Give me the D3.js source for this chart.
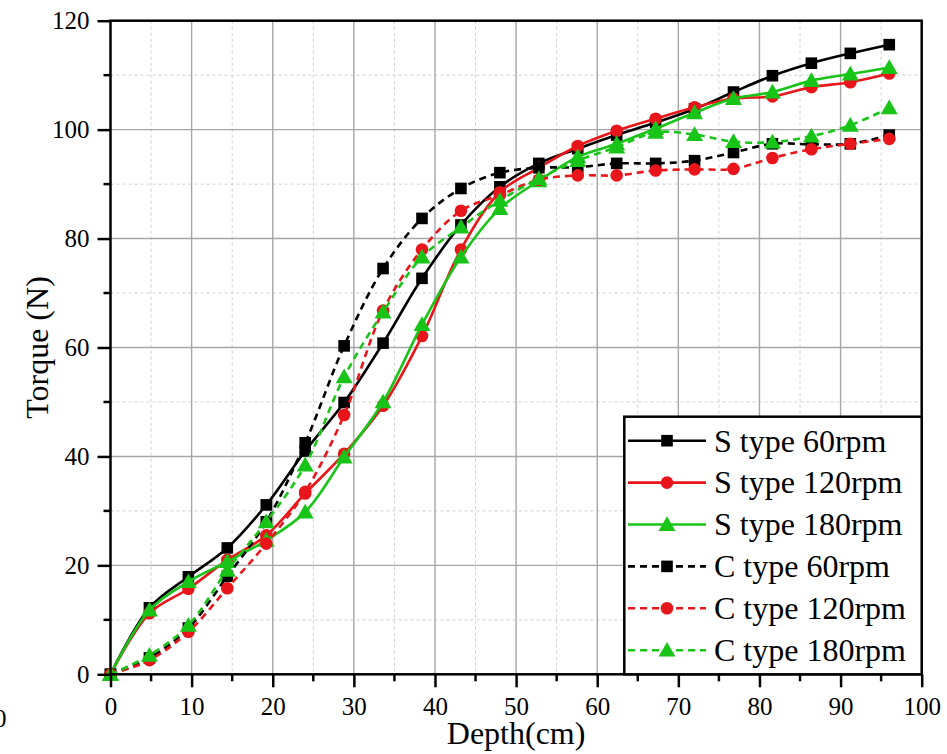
<!DOCTYPE html>
<html>
<head>
<meta charset="utf-8">
<script src="https://cdn.jsdelivr.net/npm/d3@7"></script>
<style>
  html, body { margin: 0; padding: 0; background: #fff; }
  svg { display: block; }
  svg text { font-family: "Liberation Serif", "Times New Roman", Times, serif !important; fill: #000; }
</style>
</head>
<body>
<svg id="chart" width="947" height="754" font-family="Liberation Serif, serif"></svg>
<script>
// ---- data ----
const depth = [0, 4.8, 9.6, 14.4, 19.2, 24, 28.8, 33.6, 38.4, 43.2, 48, 52.8, 57.6, 62.4, 67.2, 72, 76.8, 81.6, 86.4, 91.2, 96];
const sType60  = [0, 12.2, 17.9, 23.2, 31.1, 41.0, 49.9, 60.8, 72.7, 82.5, 89.5, 93.8, 96.5, 99.0, 101.3, 103.8, 106.9, 109.9, 112.2, 114.0, 115.6];
const sType120 = [0, 11.2, 15.7, 21.0, 25.5, 33.2, 40.5, 49.3, 62.1, 78.0, 88.5, 93.0, 97.0, 99.8, 102.0, 104.1, 105.7, 106.1, 107.8, 108.7, 110.3];
const sType180 = [0, 11.8, 17.0, 20.7, 24.6, 29.8, 39.9, 50.0, 64.2, 76.6, 85.5, 90.6, 95.0, 97.4, 100.2, 103.1, 105.7, 106.9, 109.0, 110.2, 111.4];
const cType60  = [0, 3.0, 8.5, 18.0, 28.0, 42.5, 60.3, 74.5, 83.7, 89.2, 92.1, 93.0, 93.1, 93.8, 93.8, 94.3, 95.8, 97.4, 97.3, 97.4, 99.0];
const cType120 = [0, 2.6, 7.8, 15.8, 24.0, 33.5, 47.6, 66.8, 78.0, 85.1, 88.0, 90.8, 91.6, 91.6, 92.5, 92.7, 92.8, 94.8, 96.4, 97.4, 98.3];
const cType180 = [0, 3.5, 9.0, 19.1, 28.0, 38.4, 54.6, 66.5, 76.6, 82.1, 87.0, 91.0, 94.3, 96.8, 99.5, 99.1, 97.8, 97.7, 98.8, 100.8, 104.0];

const seriesNames = ["S type 60rpm", "S type 120rpm", "S type 180rpm", "C type 60rpm", "C type 120rpm", "C type 180rpm"];
const seriesValues = [sType60, sType120, sType180, cType60, cType120, cType180];
const seriesColors = ["#000000", "#e8161b", "#19c419", "#000000", "#e8161b", "#19c419"];
const seriesSymbols = ["square", "circle", "triangle", "square", "circle", "triangle"];
const seriesDashed = [false, false, false, true, true, true];

const xTicks = [0, 10, 20, 30, 40, 50, 60, 70, 80, 90, 100];
const yTicks = [0, 20, 40, 60, 80, 100, 120];
const xMinor = [5, 15, 25, 35, 45, 55, 65, 75, 85, 95];
const yMinor = [10, 30, 50, 70, 90, 110];
const xTitle = "Depth(cm)";
const yTitle = "Torque (N)";

// ---- layout ----
const FONT = "'Liberation Serif', 'Times New Roman', serif";
const svg = d3.select("#chart");
const L = 110.5, R = 921.7, T = 20.7, B = 674.3;
const x = d3.scaleLinear().domain([0, 100]).range([L, R]);
const y = d3.scaleLinear().domain([0, 120]).range([B, T]);

// grid
const grid = svg.append("g");
grid.selectAll(".gxm").data(xMinor).join("line")
  .attr("x1", d => x(d)).attr("x2", d => x(d)).attr("y1", T).attr("y2", B)
  .attr("stroke", "#cfcfcf").attr("stroke-width", 1).attr("stroke-dasharray", "3,3");
grid.selectAll(".gym").data(yMinor).join("line")
  .attr("y1", d => y(d)).attr("y2", d => y(d)).attr("x1", L).attr("x2", R)
  .attr("stroke", "#cfcfcf").attr("stroke-width", 1).attr("stroke-dasharray", "3,3");
grid.selectAll(".gx").data(xTicks.slice(1, -1)).join("line")
  .attr("x1", d => x(d)).attr("x2", d => x(d)).attr("y1", T).attr("y2", B)
  .attr("stroke", "#a6a6a6").attr("stroke-width", 1.4);
grid.selectAll(".gy").data(yTicks.slice(1, -1)).join("line")
  .attr("y1", d => y(d)).attr("y2", d => y(d)).attr("x1", L).attr("x2", R)
  .attr("stroke", "#a6a6a6").attr("stroke-width", 1.4);

// series
const symbolSize = { square: 135, circle: 125, triangle: 125 };
const symbolType = { square: d3.symbolSquare, circle: d3.symbolCircle, triangle: d3.symbolTriangle };
const line = d3.line().x(d => x(d[0])).y(d => y(d[1])).curve(d3.curveCatmullRom.alpha(0.5));

const plot = svg.append("g");
seriesValues.forEach((vals, i) => {
  const pts = depth.map((d, j) => [d, vals[j]]);
  const g = plot.append("g");
  g.append("path").datum(pts)
    .attr("d", line).attr("fill", "none")
    .attr("stroke", seriesColors[i]).attr("stroke-width", 2.6)
    .attr("stroke-dasharray", seriesDashed[i] ? "7,5" : null);
  const sym = d3.symbol().type(symbolType[seriesSymbols[i]]).size(symbolSize[seriesSymbols[i]]);
  g.selectAll("path.m").data(pts).join("path")
    .attr("class", "m")
    .attr("d", sym)
    .attr("transform", d => `translate(${x(d[0])},${y(d[1]) + (seriesSymbols[i] === "triangle" ? 1.5 : 0)})`)
    .attr("fill", seriesColors[i]);
});

// axes
const xAxis = d3.axisBottom(x).tickValues(xTicks).tickSize(13).tickPadding(6).tickFormat(d3.format("d"));
const yAxis = d3.axisLeft(y).tickValues(yTicks).tickSize(13).tickPadding(8).tickFormat(d3.format("d"));
const gx = svg.append("g").attr("transform", `translate(0,${B})`).call(xAxis);
const gy = svg.append("g").attr("transform", `translate(${L},0)`).call(yAxis);
[gx, gy].forEach(g => {
  g.attr("font-family", FONT).attr("font-size", 25);
  g.select(".domain").remove();
  g.selectAll(".tick line").attr("stroke", "#000").attr("stroke-width", 2.5);
  g.selectAll(".tick text").attr("font-family", FONT).attr("font-size", 25).attr("fill", "#000");
});
gx.selectAll(".tick text").attr("dy", "0.88em");
gy.selectAll(".tick text").attr("dy", "0.33em");
// minor ticks
svg.append("g").selectAll("line").data(xMinor).join("line")
  .attr("x1", d => x(d)).attr("x2", d => x(d)).attr("y1", B).attr("y2", B + 7)
  .attr("stroke", "#000").attr("stroke-width", 2.5);
svg.append("g").selectAll("line").data(yMinor).join("line")
  .attr("y1", d => y(d)).attr("y2", d => y(d)).attr("x1", L).attr("x2", L - 7)
  .attr("stroke", "#000").attr("stroke-width", 2.5);

// frame
svg.append("rect").attr("x", L).attr("y", T).attr("width", R - L).attr("height", B - T)
  .attr("fill", "none").attr("stroke", "#000").attr("stroke-width", 2.5);

// titles
svg.append("text").attr("x", (L + R) / 2).attr("y", 744).attr("text-anchor", "middle")
  .attr("font-family", FONT).attr("font-size", 32).text(xTitle);
svg.append("text").attr("transform", `translate(48,${(T + B) / 2}) rotate(-90)`).attr("text-anchor", "middle")
  .attr("font-family", FONT).attr("font-size", 32).text(yTitle);
// cut-off label from the neighbouring panel at the left edge
svg.append("text").attr("x", -6).attr("y", 727).attr("font-family", FONT).attr("font-size", 25).text("0");

// legend
const lg = svg.append("g");
const lgLeft = 624.3, lgTop = 416.7;
lg.append("rect").attr("x", lgLeft).attr("y", lgTop).attr("width", R - lgLeft).attr("height", B - lgTop)
  .attr("fill", "#fff").attr("stroke", "#000").attr("stroke-width", 2.5);
seriesNames.forEach((name, i) => {
  const cy = 440.7 + i * 41.9;
  lg.append("line").attr("x1", 628).attr("x2", 706).attr("y1", cy).attr("y2", cy)
    .attr("stroke", seriesColors[i]).attr("stroke-width", 2.6)
    .attr("stroke-dasharray", seriesDashed[i] ? "7,5" : null);
  lg.append("path").attr("d", d3.symbol().type(symbolType[seriesSymbols[i]]).size(symbolSize[seriesSymbols[i]]))
    .attr("transform", `translate(667,${cy + (seriesSymbols[i] === "triangle" ? 1.5 : 0)})`)
    .attr("fill", seriesColors[i]);
  lg.append("text").attr("x", 714).attr("y", cy).attr("dy", "0.34em")
    .attr("font-family", FONT).attr("font-size", 32).text(name);
});
</script>
</body>
</html>
